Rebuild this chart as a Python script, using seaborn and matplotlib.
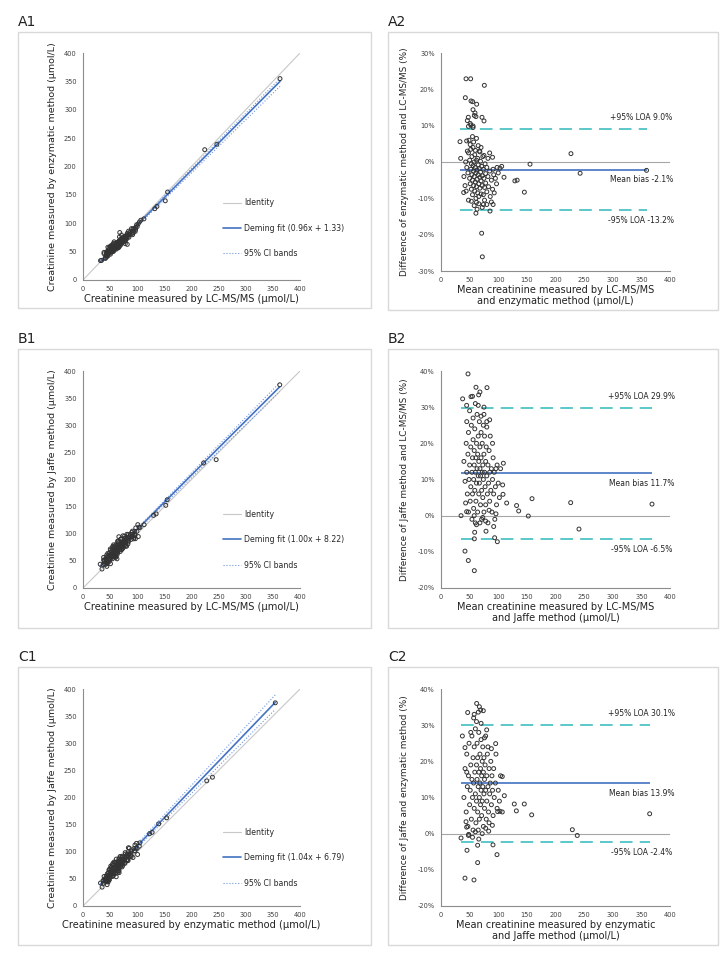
import numpy as np
import pandas as pd
import matplotlib
matplotlib.use('Agg')
import matplotlib.pyplot as plt
import seaborn as sns
from matplotlib.patches import Rectangle
from matplotlib.ticker import FuncFormatter

sns.set_style('white')
plt.rcParams['font.family'] = ['DejaVu Sans']

# ---- Bland-Altman data: mean (µmol/L), difference (%) ----
# A: enzymatic vs LC-MS/MS
a_mean = [43.7, 51.8, 75.7, 42.5, 52.4, 55.3, 62.3, 55.9, 59.4, 58.2, 61, 47.7, 46.0, 71.6, 75.1, 51, 56,
          33.2, 44.8, 227, 155.5, 243, 359, 129, 133, 145.6, 110, 103, 106, 71, 72.2, 61, 85.6, 91, 74, 80,
          62, 39.6, 34.4, 90,
          45, 47, 48, 50, 50, 51, 52, 52, 53, 53, 54, 54, 55, 55, 56, 56, 57, 57, 58, 58, 59, 59, 60, 60,
          61, 61, 62, 62, 63, 63, 64, 64, 65, 65, 66, 66, 67, 67, 68, 68, 69, 69, 70, 70, 71, 72, 72, 73,
          74, 74, 75, 76, 77, 78, 78, 80, 80, 82, 83, 85, 86, 88, 90, 92, 95, 97, 100, 40, 42, 43, 44, 46,
          48, 49, 51, 55, 57, 60, 62, 65, 68, 70, 75, 76, 82, 85, 88, 91, 93, 98, 66, 58, 53, 63, 72, 48,
          52, 56]
a_diff = [22.9, 22.9, 21.1, 17.7, 16.8, 16.6, 15.9, 14.4, 13.5, 12.8, 12.5, 12.3, 11.4, 12.3, 11.3, 10.6, 9.9,
          5.6, 5.8, 2.3, -0.6, -3.1, -2.3, -5.2, -5.0, -8.3, -4.2, -1.7, -1.2, -19.6, -26.1, -14.1, -13.5,
          -11.7, -11.7, -11.7, -11.1, -8.4, 1.0, 1.3,
          -1.5, -3.0, 2.5, -4.5, 0.5, -6.0, -2.0, 3.5, -7.5, -0.5, -3.5, 1.5, -5.0, -9.0, -1.0, 4.0, -2.5,
          -6.5, 0.0, -4.0, -8.0, 2.0, -1.5, -5.5, -3.0, -10.0, 0.5, -6.8, -2.2, -4.8, -8.5, 1.0, -3.5, -0.8,
          -6.0, -9.5, -1.8, 3.0, -4.2, -7.2, 0.2, -2.8, -5.2, -8.8, -1.2, -3.8, -6.5, 1.5, -2.0, -9.0, -4.5,
          -7.0, -0.5, -3.2, -5.8, -8.2, -1.5, -4.0, -6.8, -2.5, -9.5, -5.0, -7.5, -3.5, -4.5, -6.0, -3.0,
          -4.0, -6.5, 0.0, -8.0, 3.0, -10.5, 6.0, 4.8, 7.0, 5.5, 3.2, 6.5, 4.5, 2.8, 4.0, 1.8, -10.5, 1.0,
          2.5, -11.0, -2.0, -8.5, -1.5, -11.5, -12.0, -10.8, -13.0, -12.5, 9.8, 10.2, 9.5]

# B: Jaffe vs LC-MS/MS
b_mean = [47.2, 80.3, 61.1, 37.8, 52.4, 68, 65.8, 44.8, 75.1, 159, 226.5, 368.6, 241, 132, 135.7, 152.5,
          114.7, 108.3, 107.7, 108.9, 78.6, 58.8, 58.2, 93.7, 98.4, 41.9, 47.7, 58.2, 35, 44.8,
          40, 42, 43, 44, 45, 45, 46, 47, 48, 48, 49, 50, 50, 51, 52, 52, 53, 54, 54, 55, 55, 56, 56, 57,
          57, 58, 58, 59, 59, 60, 60, 61, 61, 62, 62, 63, 63, 64, 64, 65, 65, 66, 66, 67, 67, 68, 68, 69,
          69, 70, 70, 71, 71, 72, 72, 73, 73, 74, 74, 75, 75, 76, 76, 77, 78, 78, 79, 80, 80, 81, 82, 82,
          83, 84, 85, 85, 86, 87, 88, 89, 90, 91, 92, 93, 94, 95, 96, 97, 98, 100, 102, 104, 60, 65, 55,
          70, 75, 80, 85, 90, 58, 62, 68, 73, 78, 84, 92, 96]
b_diff = [39.2, 35.4, 35.5, 32.3, 32.9, 34.2, 33.4, 30.5, 30.0, 4.7, 3.6, 3.2, -3.7, 2.8, 1.3, -0.1,
          3.5, 5.9, 8.5, 14.5, -4.3, -4.6, -6.4, -6.1, -7.2, -9.8, -12.4, -15.2, 0.0, 1.1,
          15, 9.5, 3.5, 20, 26, 12, 6, 17, 1, 23, 10, 14, 29, 4, 19, 8, 25, 12, -1, 16, 6, 21, 27, 10,
          2, 14, 18, 7, 24, 12, -2, 16, 4, 20, 9, 28, 13, 1, 17, 11, 22, 6, 15, 26, 9, 13, 19, 3,
          11, 23, 16, 7, -1, 12, 20, 14, 5, 25, 10, 17, 1, 12, 22, 8, 15, 3, 19, 11, 26, 6, 14, -2,
          9, 18, 12, 4, 22, 7, 13, 1, 10, 16, 6, 12, -1, 8, 13, 3, 14, 9, 5, 13, 31, 30.5, 33,
          27.5, 28, 24.5, 26.5, 20, 0, -2.5, -2, -0.5, -1.5, 1.5, -3, 0.5]

# C: Jaffe vs enzymatic
c_mean = [46.6, 62.3, 67, 69.3, 73.9, 65.2, 37.3, 41.9, 95.5, 79.8, 107, 110.6, 128, 145.5, 131.6, 158.4,
          364.5, 229.4, 238, 99, 103, 107, 83.3, 89.7, 90.8, 97.8, 64, 35, 45.4, 64, 41.9, 57.6, 43.7,
          44.8, 48.3,
          40, 42, 44, 45, 46, 47, 48, 49, 50, 51, 52, 53, 54, 54, 55, 56, 56, 57, 58, 58, 59, 60, 60, 61,
          62, 62, 63, 63, 64, 64, 65, 65, 66, 66, 67, 67, 68, 68, 69, 69, 70, 70, 71, 71, 72, 72, 73, 73,
          74, 74, 75, 75, 76, 76, 77, 78, 78, 79, 80, 80, 81, 82, 83, 84, 85, 86, 87, 88, 89, 90, 91, 92,
          93, 95, 96, 98, 100, 102, 104, 57, 62, 70, 48, 55, 60, 66, 72, 78, 84, 58, 76, 82, 88, 52, 45]
c_diff = [33.5, 36.0, 35.1, 34.2, 34.0, 33.6, 27.0, 23.8, 24.9, 28.7, 15.8, 10.5, 8.2, 8.2, 6.3, 5.2,
          5.5, 1.1, -0.5, 6.1, 6.2, 6.0, 0.7, 2.3, -3.1, -5.8, -3.2, -1.2, -4.6, -8.0, -12.3, -12.8, 3.3,
          1.8, -0.2,
          10, 18, 6, 22, 13, 2, 16, 25, 8, 12, 19, 4, 15, 27, 10, 21, 1, 14, 7, 24, 17, 11, 29, 3,
          19, 9, 15, 25, 6, 21, 13, 1, 17, 28, 10, 4, 22, 14, 8, 18, 12, 26, 16, 5, 20, 9, 13, 24,
          2, 17, 11, 21, 7, 15, 19, 12, 27, 4, 16, 9, 22, 13, 6, 18, 11, 14, 20, 8, 16, 12, 5, 18,
          10, 14, 22, 7, 12, 9, 16, 32, 31, 30.5, -0.5, -1, 0.5, -1.5, 0, 1.5, 3, 33, 26.5, 24, 23.5, 28, 17]

# Deming fits (slope, intercept) and 95% CI band lines
a_fit, a_ci_hi, a_ci_lo = (0.96, 1.33), (0.975, 1.26), (0.936, 1.43)
b_fit, b_ci_hi, b_ci_lo = (1.00, 8.22), (1.022, 7.83), (0.975, 8.26)
c_fit, c_ci_hi, c_ci_lo = (1.04, 6.79), (1.081, 6.07), (1.0015, 7.45)
a_fit_label = 'Deming fit (0.96x + 1.33)'
b_fit_label = 'Deming fit (1.00x + 8.22)'
c_fit_label = 'Deming fit (1.04x + 6.79)'

# bias and limits of agreement (%)
a_bias, a_loa = -2.1, (9.0, -13.2)
b_bias, b_loa = 11.7, (29.9, -6.5)
c_bias, c_loa = 13.9, (30.1, -2.4)

W, H = 720, 959
BLUE = '#4472C4'
CI_BLUE = '#7096DC'
TEAL = '#4DC3C6'
GREY = '#c8c8c8'
SPINE = '#8c8c8c'
TXT = '#222222'

fig = plt.figure(figsize=(W / 100, H / 100), dpi=100)


def px_axes(l, t, r, b):
    return fig.add_axes([l / W, 1 - b / H, (r - l) / W, (b - t) / H])


def box(l, t, r, b, label):
    fig.add_artist(Rectangle((l / W, 1 - b / H), (r - l) / W, (b - t) / H, transform=fig.transFigure,
                             fill=False, ec='#d9d9d9', lw=1))
    fig.text(l / W, 1 - (t - 10) / H, label, fontsize=10, ha='left', va='center', color=TXT)


def style(ax):
    sns.despine(ax=ax)
    for s in ['left', 'bottom']:
        ax.spines[s].set_color(SPINE)
        ax.spines[s].set_linewidth(0.8)
    ax.tick_params(labelsize=4.8, labelcolor='#404040', length=2.5, width=0.6, color=SPINE, pad=2)


def pairs(mean, diff):
    m = np.array(mean)
    d = np.array(diff)
    return m * (1 - d / 200), m * (1 + d / 200)


def scatter_panel(ax, mean, diff, fit, ci_hi, ci_lo, fit_label, xlabel, ylabel):
    x, y = pairs(mean, diff)
    xs = np.array([x.min(), x.max()])
    h1, = ax.plot([0, 400], [0, 400], color=GREY, lw=0.8)
    h2, = ax.plot(xs, fit[0] * xs + fit[1], color=BLUE, lw=1.2)
    h3, = ax.plot(xs, ci_hi[0] * xs + ci_hi[1], color=CI_BLUE, lw=0.8, ls=':')
    ax.plot(xs, ci_lo[0] * xs + ci_lo[1], color=CI_BLUE, lw=0.8, ls=':')
    df = pd.DataFrame({'x': x, 'y': y})
    sns.scatterplot(data=df, x='x', y='y', ax=ax, s=8, marker='o', fc='none', ec='#333333',
                    linewidth=0.7, zorder=3)
    ax.set_xlim(0, 400)
    ax.set_ylim(0, 400)
    ax.set_xticks(range(0, 401, 50))
    ax.set_yticks(range(0, 401, 50))
    ax.set_xlabel(xlabel, fontsize=7.1, color=TXT, labelpad=1)
    ax.set_ylabel(ylabel, fontsize=6.8, color=TXT, labelpad=5)
    ax.legend([h1, h2, h3], ['Identity', fit_label, '95% CI bands'], loc='upper left',
              bbox_to_anchor=(0.645, 0.36), frameon=False, fontsize=5.6, labelspacing=2.1,
              handlelength=2.3, handletextpad=0.4, borderpad=0, borderaxespad=0)
    style(ax)


def ba_panel(ax, mean, diff, bias, loa, ylim, xlabel, ylabel):
    m = np.array(mean)
    x0, x1 = m.min(), m.max()
    ax.axhline(0, color='#a6a6a6', lw=0.8, zorder=1)
    ax.hlines(bias, x0, x1, color=BLUE, lw=1.2, zorder=2)
    ax.hlines(list(loa), x0, x1, color=TEAL, lw=1.3, linestyles=(0, (7, 4)), zorder=2)
    df = pd.DataFrame({'m': m, 'd': diff})
    sns.scatterplot(data=df, x='m', y='d', ax=ax, s=8, marker='o', fc='none', ec='#333333',
                    linewidth=0.7, zorder=3)
    tk = dict(fontsize=5.5, color=TXT, ha='center')
    ax.annotate(f'+95% LOA {loa[0]:.1f}%', (350, loa[0]), xytext=(0, 5), textcoords='offset points',
                va='bottom', **tk)
    ax.annotate(f'Mean bias {bias:.1f}%', (350, bias), xytext=(0, -4), textcoords='offset points',
                va='top', **tk)
    ax.annotate(f'-95% LOA {loa[1]:.1f}%', (350, loa[1]), xytext=(0, -4), textcoords='offset points',
                va='top', **tk)
    ax.set_xlim(0, 400)
    ax.set_ylim(*ylim)
    ax.set_xticks(range(0, 401, 50))
    ax.set_yticks(range(ylim[0], ylim[1] + 1, 10))
    ax.yaxis.set_major_formatter(FuncFormatter(lambda v, _: f'{v:.0f}%'))
    ax.set_xlabel(xlabel, fontsize=7.0, color=TXT, labelpad=1, linespacing=1.15)
    ax.set_ylabel(ylabel, fontsize=6.4, color=TXT, labelpad=6)
    style(ax)


# row A
box(18, 32, 371, 308, 'A1')
box(388, 32, 718, 310, 'A2')
scatter_panel(px_axes(83, 53, 300, 280), a_mean, a_diff, a_fit, a_ci_hi, a_ci_lo, a_fit_label,
              'Creatinine measured by LC-MS/MS (µmol/L)',
              'Creatinine measured by enzymatic method (µmol/L)')
ba_panel(px_axes(441, 53, 670, 271), a_mean, a_diff, a_bias, a_loa, (-30, 30),
         'Mean creatinine measured by LC-MS/MS\nand enzymatic method (µmol/L)',
         'Difference of enzymatic method and LC-MS/MS (%)')

# row B
box(18, 349, 371, 628, 'B1')
box(388, 349, 718, 628, 'B2')
scatter_panel(px_axes(83, 371, 300, 588), b_mean, b_diff, b_fit, b_ci_hi, b_ci_lo, b_fit_label,
              'Creatinine measured by LC-MS/MS (µmol/L)',
              'Creatinine measured by Jaffe method (µmol/L)')
ba_panel(px_axes(441, 371, 670, 588), b_mean, b_diff, b_bias, b_loa, (-20, 40),
         'Mean creatinine measured by LC-MS/MS\nand Jaffe method (µmol/L)',
         'Difference of Jaffe method and LC-MS/MS (%)')

# row C
box(18, 667, 371, 945, 'C1')
box(388, 667, 718, 945, 'C2')
scatter_panel(px_axes(83, 689, 300, 906), c_mean, c_diff, c_fit, c_ci_hi, c_ci_lo, c_fit_label,
              'Creatinine measured by enzymatic method (µmol/L)',
              'Creatinine measured by Jaffe method (µmol/L)')
ba_panel(px_axes(441, 689, 670, 906), c_mean, c_diff, c_bias, c_loa, (-20, 40),
         'Mean creatinine measured by enzymatic\nand Jaffe method (µmol/L)',
         'Difference of Jaffe and enzymatic method (%)')

fig.savefig('out.png', dpi=100)
